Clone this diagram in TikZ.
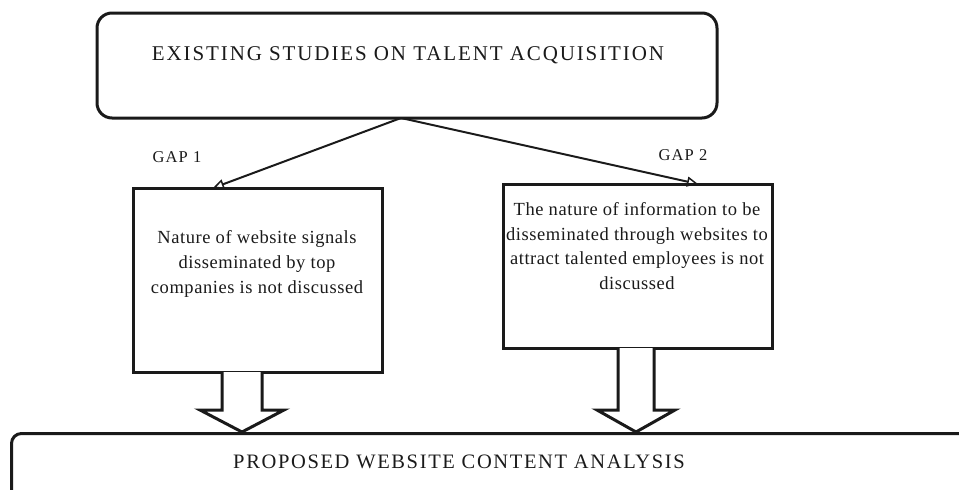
\documentclass[tikz,border=0pt]{standalone}
\usepackage{fontspec}
\setmainfont{Liberation Serif}
\newfontfamily\titlefont[LetterSpace=9]{Liberation Serif}
\newfontfamily\proposalfont[LetterSpace=8]{Liberation Serif}
\newfontfamily\bodyfont[LetterSpace=3]{Liberation Serif}
\newfontfamily\gapfont[LetterSpace=7]{Liberation Serif}
\usetikzlibrary{arrows.meta,calc}
\definecolor{ink}{HTML}{1A1A1A}
\tikzset{
  boxline/.style={draw=ink, line width=3pt},
  roundbox/.style={boxline, rounded corners=15pt, minimum width=620pt, minimum height=105pt, inner sep=0pt},
  gapbox/.style={boxline, inner sep=0pt},
  titletext/.style={text=ink, font=\titlefont\fontsize{21}{25}\selectfont},
  proposaltext/.style={text=ink, font=\proposalfont\fontsize{20.5}{24}\selectfont},
  bodytext/.style={text=ink, align=center, font=\bodyfont\fontsize{18.5}{24.7}\selectfont},
  gaptext/.style={text=ink, font=\gapfont\fontsize{16.5}{19}\selectfont},
  gaparrow/.style={draw=ink, line width=2pt, -{Triangle[open, length=11pt, width=10pt, line width=1.5pt]}},
  hollow/.style={draw=ink, line width=3pt, fill=white, line join=miter},
}
\begin{document}
\begin{tikzpicture}[x=1pt, y=-1pt]
  \useasboundingbox (0,0) rectangle (959,490);
  \clip (0,0) rectangle (959,490);

  % top: existing studies
  \node[roundbox] (top) at (407,65.5) {};
  \node[titletext] (toptext) at (408,55) {EXISTING STUDIES ON TALENT ACQUISITION};

  % the two gaps
  \node[gapbox, minimum width=249pt, minimum height=184pt] (left) at (257.5,280) {};
  \node[bodytext] (lefttext) at (257,264) {Nature of website signals\\disseminated by top\\companies is not discussed};
  \node[gapbox, minimum width=269pt, minimum height=164pt] (right) at (637.5,266) {};
  \node[bodytext] (righttext) at (637,246) {The nature of information to be\\disseminated through websites to\\attract talented employees is not\\discussed};

  % bottom: proposed analysis (runs off the right and bottom edges)
  \node[boxline, rounded corners=10pt, minimum width=1000pt, minimum height=100pt, inner sep=0pt, anchor=north west] (bottom) at (10,432) {};
  \node[proposaltext] (bottomtext) at (459,462) {PROPOSED WEBSITE CONTENT ANALYSIS};

  % arrows from the top box to each gap
  \coordinate (apex) at (401,118);
  \coordinate (gap1end) at (213,188);
  \coordinate (gap2end) at (698,184);
  \draw[gaparrow] (apex) -- (gap1end);
  \draw[gaparrow] (apex) -- (gap2end);
  \node[gaptext] (gap1) at (177,157) {GAP 1};
  \node[gaptext] (gap2) at (683,155) {GAP 2};

  % hollow block arrows from each gap down to the proposal
  \coordinate (lt) at (242,372);
  \coordinate (ltip) at (242,432);
  \draw[hollow] ($(lt)+(-20,0)$) -- ($(ltip)+(-20,-22)$) -- ($(ltip)+(-42,-22)$) -- (ltip)
        -- ($(ltip)+(42,-22)$) -- ($(ltip)+(20,-22)$) -- ($(lt)+(20,0)$);
  \coordinate (rt) at (636,348);
  \coordinate (rtip) at (636,432);
  \draw[hollow] ($(rt)+(-18,0)$) -- ($(rtip)+(-18,-22)$) -- ($(rtip)+(-39,-22)$) -- (rtip)
        -- ($(rtip)+(39,-22)$) -- ($(rtip)+(18,-22)$) -- ($(rt)+(18,0)$);
\end{tikzpicture}
\end{document}
